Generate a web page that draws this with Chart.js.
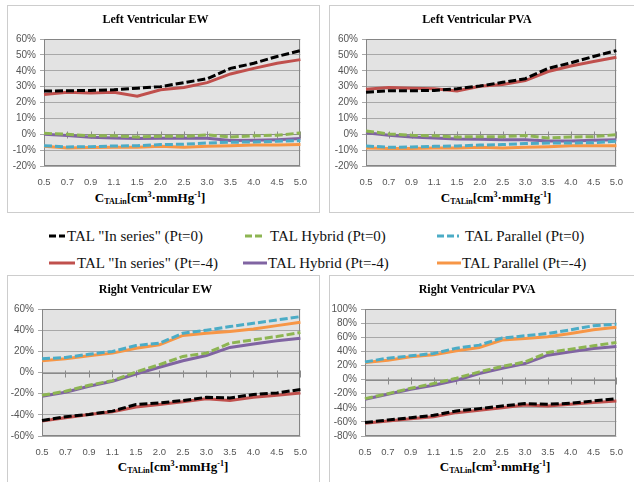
<!DOCTYPE html>
<html lang="en">
<head>
<meta charset="UTF-8">
<title>TAL - ventricular EW and PVA</title>
<script src="https://cdn.jsdelivr.net/npm/chart.js"></script>
<style>
    body {
        margin: 0;
        width: 634px;
        height: 482px;
        overflow: hidden;
        background: #fff;
        position: relative;
        font-family: "Liberation Serif", serif;
    }
    .panel {
        position: absolute;
        border: 1px solid #cdcdcd;
        box-sizing: border-box;
    }
    .panel canvas {
        position: absolute;
        left: 0;
        top: 0;
    }
    .xtitle {
        position: absolute;
        font: bold 13px "Liberation Serif", serif;
        white-space: nowrap;
        transform: translate(-50%, -50%);
        color: #000;
    }
    .xtitle sub { font-size: 8px; vertical-align: -2px; }
    .xtitle sup { font-size: 8px; vertical-align: 5px; }
    .leg {
        position: absolute;
        font-family: "Liberation Serif", serif;
        font-size: 15px;
        line-height: 18px;
        white-space: nowrap;
        color: #111;
        transform: translateY(-50%);
    }
    .legline { position: absolute; overflow: visible; }
</style>
</head>
<body>
    <div class="panel" style="left:7px; top:5px; width:313px; height:208px;">
        <canvas id="lvEw" width="310" height="180"></canvas>
    </div>
    <div class="panel" style="left:329px; top:5px; width:310px; height:208px;">
        <canvas id="lvPva" width="304" height="180"></canvas>
    </div>
    <div class="panel" style="left:7px; top:275px; width:313px; height:215px;">
        <canvas id="rvEw" width="310" height="180"></canvas>
    </div>
    <div class="panel" style="left:329px; top:275px; width:310px; height:215px;">
        <canvas id="rvPva" width="304" height="180"></canvas>
    </div>

    <div class="xtitle" style="left:150px; top:198px;">C<sub>TALin</sub>[cm<sup>3</sup>·mmHg<sup>-1</sup>]</div>
    <div class="xtitle" style="left:496px; top:198px;">C<sub>TALin</sub>[cm<sup>3</sup>·mmHg<sup>-1</sup>]</div>
    <div class="xtitle" style="left:173px; top:467px;">C<sub>TALin</sub>[cm<sup>3</sup>·mmHg<sup>-1</sup>]</div>
    <div class="xtitle" style="left:495px; top:467px;">C<sub>TALin</sub>[cm<sup>3</sup>·mmHg<sup>-1</sup>]</div>

    <div id="legend"></div>

<script>
    // x categories (C_TALin)
    const categories = ['0.5', '0.7', '0.9', '1.1', '1.5', '2.0', '2.5', '3.0', '3.5', '4.0', '4.5', '5.0'];

    const seriesLabels = [
        'TAL "In series" (Pt=0)', 'TAL Hybrid (Pt=0)', 'TAL Parallel (Pt=0)',
        'TAL "In series" (Pt=-4)', 'TAL Hybrid (Pt=-4)', 'TAL Parallel (Pt=-4)'
    ];
    const seriesColors = ['#000000', '#8db552', '#4bacc6', '#c0504d', '#8064a2', '#f79646'];

    // y tick labels (%)
    const lvTicks = [-20, -10, 0, 10, 20, 30, 40, 50, 60];
    const rvEwTicks = [-60, -40, -20, 0, 20, 40, 60];
    const rvPvaTicks = [-80, -60, -40, -20, 0, 20, 40, 60, 80, 100];

    // Left Ventricular EW
    const lvEwSeriesP0   = [27.2, 27.4, 27.6, 28.0, 29.0, 30.0, 32.5, 35.0, 41.5, 44.7, 49.0, 52.7];
    const lvEwHybridP0   = [0.6, 0.0, -1.0, -1.0, -1.7, -1.3, -1.3, -0.4, -1.7, -1.0, -0.6, 0.8];
    const lvEwParallelP0 = [-7.2, -8.0, -7.8, -7.4, -7.2, -6.5, -6.3, -5.5, -5.0, -4.9, -4.4, -4.0];
    const lvEwSeriesP4   = [25.0, 26.4, 26.0, 26.4, 24.0, 28.0, 29.5, 32.5, 38.0, 41.5, 44.7, 47.0];
    const lvEwHybridP4   = [0.0, -0.8, -1.9, -2.3, -2.7, -2.5, -2.5, -2.5, -4.0, -3.8, -3.4, -2.7];
    const lvEwParallelP4 = [-7.6, -8.6, -8.4, -8.2, -8.2, -7.6, -8.2, -7.6, -7.2, -6.8, -6.8, -6.5];

    // Left Ventricular PVA
    const lvPvaSeriesP0   = [26.4, 27.4, 27.4, 27.6, 28.7, 30.4, 32.7, 35.0, 41.5, 45.0, 49.0, 52.7];
    const lvPvaHybridP0   = [2.1, 0.2, -0.6, -1.0, -1.7, -1.5, -1.5, -0.8, -2.3, -1.7, -1.5, -0.2];
    const lvPvaParallelP0 = [-7.4, -8.2, -8.0, -7.6, -7.4, -6.8, -6.5, -5.9, -5.5, -5.5, -5.3, -4.4];
    const lvPvaSeriesP4   = [28.3, 29.5, 29.0, 28.7, 27.2, 30.2, 31.4, 33.8, 39.5, 43.0, 45.8, 48.5];
    const lvPvaHybridP4   = [1.0, -0.6, -1.7, -2.3, -3.0, -3.2, -3.4, -3.4, -4.2, -4.2, -3.8, -3.4];
    const lvPvaParallelP4 = [-8.6, -8.9, -8.9, -8.6, -8.6, -8.2, -8.6, -8.2, -7.8, -7.2, -7.2, -7.2];

    // Right Ventricular EW
    const rvEwSeriesP0   = [-45.3, -41.8, -39.6, -36.5, -30.2, -28.7, -26.5, -23.4, -24.0, -20.8, -19.3, -16.1];
    const rvEwHybridP0   = [-21.5, -17.7, -12.0, -7.7, 0.5, 7.4, 15.2, 18.3, 27.7, 30.9, 34.0, 37.8];
    const rvEwParallelP0 = [13.0, 14.2, 17.3, 19.9, 25.5, 27.7, 37.1, 40.0, 43.4, 46.5, 49.6, 52.8];
    const rvEwSeriesP4   = [-45.9, -42.8, -39.6, -37.1, -32.7, -30.2, -27.7, -24.9, -26.5, -23.4, -21.5, -19.3];
    const rvEwHybridP4   = [-22.4, -18.6, -13.0, -8.3, -1.4, 4.9, 11.1, 16.1, 23.7, 27.0, 30.0, 32.4];
    const rvEwParallelP4 = [11.0, 13.0, 15.8, 18.3, 23.0, 26.2, 35.0, 37.0, 38.7, 41.2, 44.3, 47.5];

    // Right Ventricular PVA
    const rvPvaSeriesP0   = [-61.0, -57.3, -54.0, -50.7, -44.5, -41.2, -37.4, -34.1, -35.0, -33.6, -30.3, -27.0];
    const rvPvaHybridP0   = [-27.0, -20.0, -12.3, -5.7, 1.9, 10.9, 18.5, 25.0, 38.4, 43.0, 47.9, 52.6];
    const rvPvaParallelP0 = [25.0, 30.3, 33.6, 37.0, 44.5, 48.8, 58.8, 62.0, 65.4, 70.6, 76.3, 78.7];
    const rvPvaSeriesP4   = [-62.0, -58.8, -55.5, -52.6, -46.9, -43.6, -39.8, -36.0, -37.4, -35.0, -32.7, -30.3];
    const rvPvaHybridP4   = [-28.0, -20.9, -13.7, -8.0, -1.0, 8.5, 16.1, 22.7, 34.6, 39.3, 44.0, 47.0];
    const rvPvaParallelP4 = [24.2, 27.5, 32.2, 35.0, 40.8, 45.5, 56.0, 58.3, 60.7, 65.4, 70.6, 74.0];

    // grey plot area, frame, and the category axis crossing at 0 with its tick marks
    const plotFrame = {
        id: 'plotFrame',
        beforeDraw(chart) {
            const { ctx, chartArea: a } = chart;
            ctx.save();
            ctx.fillStyle = '#e3e3e3';
            ctx.fillRect(a.left, a.top, a.width, a.height);
            ctx.restore();
        },
        beforeDatasetsDraw(chart) {
            const { ctx, chartArea: a, scales } = chart;
            const y0 = Math.round(scales.y.getPixelForValue(0)) + 0.5;
            ctx.save();
            ctx.strokeStyle = '#8a8a8a';
            ctx.lineWidth = 1;
            ctx.beginPath();
            ctx.moveTo(a.left, y0);
            ctx.lineTo(a.right, y0);
            categories.forEach((c, i) => {
                const x = Math.round(scales.x.getPixelForValue(i)) + 0.5;
                ctx.moveTo(x, y0 - 3);
                ctx.lineTo(x, y0 + 4);
            });
            ctx.stroke();
            ctx.strokeStyle = '#858585';
            ctx.strokeRect(Math.round(a.left) + 0.5, Math.round(a.top) + 0.5, Math.round(a.width) - 1, Math.round(a.height) - 1);
            ctx.restore();
        }
    };

    function buildChart(id, title, series, yTicks, yWidth, padRight) {
        return new Chart(document.getElementById(id), {
            type: 'line',
            data: {
                labels: categories,
                datasets: series.map((d, i) => ({
                    label: seriesLabels[i],
                    data: d,
                    borderColor: seriesColors[i],
                    borderWidth: 3,
                    borderDash: i < 3 ? [8, 3] : [],
                    pointRadius: 0,
                    tension: 0,
                    fill: false
                }))
            },
            options: {
                responsive: false,
                animation: false,
                devicePixelRatio: 1,
                layout: { padding: { left: 0, right: padRight, top: 0, bottom: 0 } },
                plugins: {
                    legend: { display: false },
                    tooltip: { enabled: false },
                    title: {
                        display: true,
                        text: title,
                        color: '#000',
                        font: { family: 'Liberation Serif', size: 12, weight: 'bold' },
                        padding: { top: 7, bottom: 11.6 }
                    }
                },
                scales: {
                    x: {
                        offset: false,
                        grid: { display: false, drawTicks: false },
                        border: { display: false },
                        ticks: {
                            color: '#555',
                            font: { family: 'Liberation Sans', size: 9.5 },
                            padding: 11,
                            maxRotation: 0,
                            autoSkip: false
                        },
                        afterFit(s) { s.height = 20; }
                    },
                    y: {
                        min: yTicks[0],
                        max: yTicks[yTicks.length - 1],
                        grid: { color: '#a8a8a8', tickLength: 4 },
                        border: { display: false },
                        ticks: {
                            stepSize: yTicks[1] - yTicks[0],
                            autoSkip: false,
                            color: '#555',
                            font: { family: 'Liberation Sans', size: 10 },
                            padding: 4,
                            callback: v => v + '%'
                        },
                        afterFit(s) { s.width = yWidth; }
                    }
                }
            },
            plugins: [plotFrame]
        });
    }

    buildChart('lvEw', 'Left Ventricular EW',
        [lvEwSeriesP0, lvEwHybridP0, lvEwParallelP0, lvEwSeriesP4, lvEwHybridP4, lvEwParallelP4],
        lvTicks, 36, 15);
    buildChart('lvPva', 'Left Ventricular PVA',
        [lvPvaSeriesP0, lvPvaHybridP0, lvPvaParallelP0, lvPvaSeriesP4, lvPvaHybridP4, lvPvaParallelP4],
        lvTicks, 36, 10);
    buildChart('rvEw', 'Right Ventricular EW',
        [rvEwSeriesP0, rvEwHybridP0, rvEwParallelP0, rvEwSeriesP4, rvEwHybridP4, rvEwParallelP4],
        rvEwTicks, 34, 15);
    buildChart('rvPva', 'Right Ventricular PVA',
        [rvPvaSeriesP0, rvPvaHybridP0, rvPvaParallelP0, rvPvaSeriesP4, rvPvaHybridP4, rvPvaParallelP4],
        rvPvaTicks, 35, 10);

    // shared legend between the two rows of charts
    const legendSpots = [
        { y: 236, x1: 49, x2: 65, tx: 67 },
        { y: 236, x1: 245, x2: 265, tx: 270 },
        { y: 236, x1: 437, x2: 459, tx: 465 },
        { y: 263, x1: 49, x2: 75, tx: 77 },
        { y: 263, x1: 243, x2: 267, tx: 268 },
        { y: 263, x1: 437, x2: 461, tx: 462 }
    ];
    const legend = document.getElementById('legend');
    legendSpots.forEach((p, i) => {
        const w = p.x2 - p.x1;
        const svg = document.createElementNS('http://www.w3.org/2000/svg', 'svg');
        svg.setAttribute('class', 'legline');
        svg.setAttribute('width', w);
        svg.setAttribute('height', 4);
        svg.style.left = p.x1 + 'px';
        svg.style.top = (p.y - 2) + 'px';
        const ln = document.createElementNS('http://www.w3.org/2000/svg', 'line');
        ln.setAttribute('x1', 0);
        ln.setAttribute('x2', w);
        ln.setAttribute('y1', 2);
        ln.setAttribute('y2', 2);
        ln.setAttribute('stroke', seriesColors[i]);
        ln.setAttribute('stroke-width', 3);
        if (i < 3) ln.setAttribute('stroke-dasharray', '7,3');
        svg.appendChild(ln);
        legend.appendChild(svg);

        const t = document.createElement('div');
        t.className = 'leg';
        t.style.left = p.tx + 'px';
        t.style.top = p.y + 'px';
        t.textContent = seriesLabels[i];
        legend.appendChild(t);
    });
</script>
</body>
</html>
